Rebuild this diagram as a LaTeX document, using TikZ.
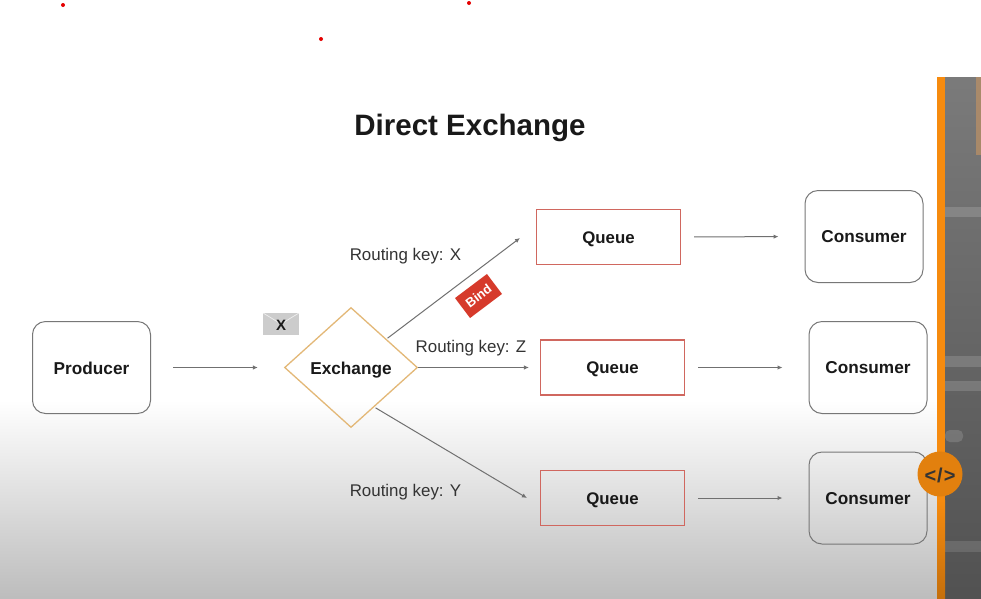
\documentclass[tikz,border=0pt]{standalone}
\usepackage{fontspec}
\setmainfont{Liberation Sans}
\usetikzlibrary{shapes.geometric,arrows.meta}
\definecolor{boxline}{HTML}{777777}
\definecolor{queueline}{HTML}{D0675F}
\definecolor{orangeline}{HTML}{F68B0F}
\definecolor{exline}{HTML}{E3B877}
\definecolor{wire}{HTML}{707070}
\definecolor{bindred}{HTML}{D63A2B}
\newcommand\lowtext[2]{\raisebox{-#1pt}[\height][\depth]{#2}}
\tikzset{
  every node/.style={inner sep=0pt,text=black!90},
  boxnode/.style={draw=boxline,line width=1pt,rounded corners=13pt,minimum width=118pt,minimum height=92pt,fill=none,font=\fontsize{17.2}{20}\selectfont\bfseries},
  queuenode/.style={draw=queueline,line width=1.1pt,minimum width=144pt,minimum height=55pt,font=\fontsize{16.8}{20}\selectfont\bfseries},
  keylabel/.style={font=\fontsize{16.9}{20}\selectfont,text=black!80},
  wirearrow/.style={draw=wire,line width=1pt,-{Latex[length=5pt,width=4.5pt]}},
  dotmark/.style={circle,fill=red!90!black,minimum size=4pt}
}
\begin{document}
\begin{tikzpicture}[x=1pt,y=-1pt]
\useasboundingbox (0,0) rectangle (981,598);
\fill[white] (0,0) rectangle (981,598);
% background gradient
\fill[top color=white,bottom color=black!26] (0,400) rectangle (937,598);
% side bar
\fill[top color=black!52,bottom color=black!68] (945,77) rectangle (981,598);
\fill[white,opacity=0.15] (945,207) rectangle (981,217);
\fill[white,opacity=0.15] (945,356) rectangle (981,367);
\fill[white,opacity=0.15] (945,381) rectangle (981,391);
\fill[white,opacity=0.15,rounded corners=5pt] (945,430) rectangle (963,442);
\fill[white,opacity=0.12] (945,541) rectangle (981,552);
\fill[orange!55!black!60,opacity=0.75] (976,77) rectangle (981,155);
\fill[orangeline] (937,77) rectangle (945,500);
\fill[top color=orangeline,bottom color=orangeline!80!black] (937,500) rectangle (945,598);
% dots
\node[dotmark] (d1) at (63,5) {};
\node[dotmark] (d2) at (469,3) {};
\node[dotmark] (d3) at (321,39) {};
% title
\node[font=\fontsize{29.5}{34}\selectfont\bfseries] (title) at (470,128) {Direct Exchange};
% nodes
\node[boxnode] (prod) at (91.5,367.5) {\lowtext{1}{Producer}};
\node[draw=exline,line width=1.3pt,diamond,aspect=1.1,minimum width=133pt,minimum height=120pt,font=\fontsize{17.2}{20}\selectfont\bfseries] (ex) at (351,367.5) {\lowtext{2.5}{Exchange}};
\node[queuenode] (q1) at (608.5,237) {\lowtext{2}{Queue}};
\node[queuenode] (q2) at (612.5,367.5) {\lowtext{2}{Queue}};
\node[queuenode] (q3) at (612.5,498) {\lowtext{2}{Queue}};
\node[boxnode] (c1) at (864,236.5) {\lowtext{0.5}{Consumer}};
\node[boxnode] (c2) at (868,367.5) {\lowtext{0.5}{Consumer}};
\node[boxnode] (c3) at (868,498) {\lowtext{0.5}{Consumer}};
% arrows
\draw[wirearrow,shorten <=22pt,shorten >=26pt] (prod.east) -- (ex.west);
\draw[wirearrow] ([shift={(3,1)}]ex.north east) -- ([shift={(-16,1)}]q1.west);
\draw[wirearrow] (ex.east) -- ([xshift=-11pt]q2.west);
\draw[wirearrow] ([shift={(-9,10)}]ex.south east) -- ([xshift=-13pt]q3.west);
\draw[wirearrow,shorten <=13pt,shorten >=26pt] (q1.east) -- (c1.west);
\draw[wirearrow,shorten <=13pt,shorten >=26pt] (q2.east) -- (c2.west);
\draw[wirearrow,shorten <=13pt,shorten >=26pt] (q3.east) -- (c3.west);
% labels
\node[keylabel] (k1) at (405.5,256.5) {Routing key: X};
\node[keylabel] (k2) at (471,348) {Routing key: Z};
\node[keylabel] (k3) at (405.5,492.5) {Routing key: Y};
% envelope
\node[fill=black!20,minimum width=36pt,minimum height=22pt] (env) at (281,324) {};
\draw[white,opacity=0.7,line width=0.7pt] (env.north west) -- (env.center) -- (env.north east);
\node[font=\fontsize{15}{18}\selectfont\bfseries] (envx) at (281,325) {X};
% bind
\node[fill=bindred,text=white,rotate=37,minimum width=40pt,minimum height=25pt,font=\fontsize{13}{15}\selectfont\bfseries] (bind) at (478.5,296) {Bind};
% code badge
\node[circle,fill=orangeline!92!black,minimum size=45pt] (badge) at (940,474) {};
\node[font=\fontsize{20}{22}\selectfont\bfseries,text=black!80] (code) at (940,475) {<\kern1pt/\kern1pt>};
\end{tikzpicture}
\end{document}
